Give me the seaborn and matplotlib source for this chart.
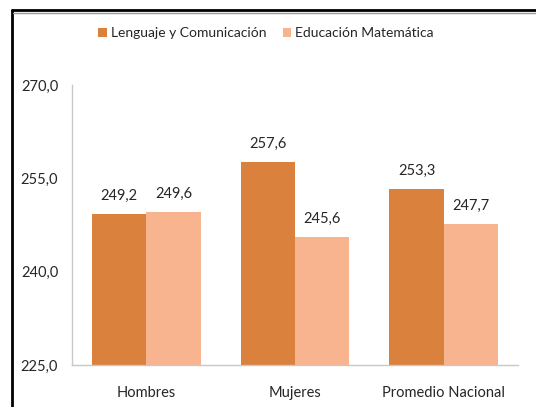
import pandas as pd
import matplotlib.pyplot as plt
import seaborn as sns
from matplotlib.lines import Line2D

# data
categories = ['Hombres', 'Mujeres', 'Promedio Nacional']
series_names = ['Lenguaje y Comunicación', 'Educación Matemática']
lenguaje = [249.2, 257.6, 253.3]
matematica = [249.6, 245.6, 247.7]
y_ticks = [225, 240, 255, 270]

df = pd.DataFrame({
    'grupo': categories * 2,
    'serie': [series_names[0]] * 3 + [series_names[1]] * 3,
    'puntaje': lenguaje + matematica,
})

sns.set_style('white')
plt.rcParams['font.family'] = ['Lato', 'DejaVu Sans']

fig = plt.figure(figsize=(5.36, 4.07), dpi=100)
ax = fig.add_axes([0.1343, 0.1032, 0.8321, 0.688])

colors = ['#DA823D', '#F8B48F']
sns.barplot(data=df, x='grupo', y='puntaje', hue='serie', palette=colors,
            width=0.73, gap=0, saturation=1, linewidth=0, ax=ax, legend=True)

ax.set_ylim(225, 270)
ax.set_xlim(-0.5, 2.5)
ax.set_yticks(y_ticks)
ax.set_yticklabels([f'{v:.1f}'.replace('.', ',') for v in y_ticks])
ax.set_xlabel('')
ax.set_ylabel('')
ax.tick_params(axis='both', length=0, labelsize=10.5, colors='#262626')
ax.tick_params(axis='y', pad=10)
ax.tick_params(axis='x', pad=15)

for side in ['top', 'right']:
    ax.spines[side].set_visible(False)
for side in ['left', 'bottom']:
    ax.spines[side].set_color('#C8C8C8')
    ax.spines[side].set_linewidth(1)

# value labels
for cont in ax.containers:
    for bar in cont:
        h = bar.get_height()
        ax.annotate(f'{h:.1f}'.replace('.', ','),
                    (bar.get_x() + bar.get_width() / 2, h),
                    xytext=(0, 8), textcoords='offset points',
                    ha='center', va='bottom', fontsize=10.5, color='#262626')

ax.legend(loc='center', bbox_to_anchor=(266 / 536, 1 - 33 / 407),
          bbox_transform=fig.transFigure, ncol=2, frameon=False,
          fontsize=10, handlelength=0.6, handleheight=0.6,
          handletextpad=0.3, columnspacing=1.2, labelcolor='#262626')

# frame pieces of the original screenshot
fig.add_artist(Line2D([12 / 536, 12 / 536], [0, 1 - 10 / 407],
                      color='black', lw=2, transform=fig.transFigure))
fig.add_artist(Line2D([12 / 536, 1], [1 - 10 / 407, 1 - 10 / 407],
                      color='black', lw=2, transform=fig.transFigure))
fig.add_artist(Line2D([13 / 536, 1], [1 - 12.5 / 407, 1 - 12.5 / 407],
                      color='#9A9A9A', lw=1, transform=fig.transFigure))

fig.savefig('out.png', dpi=100)
